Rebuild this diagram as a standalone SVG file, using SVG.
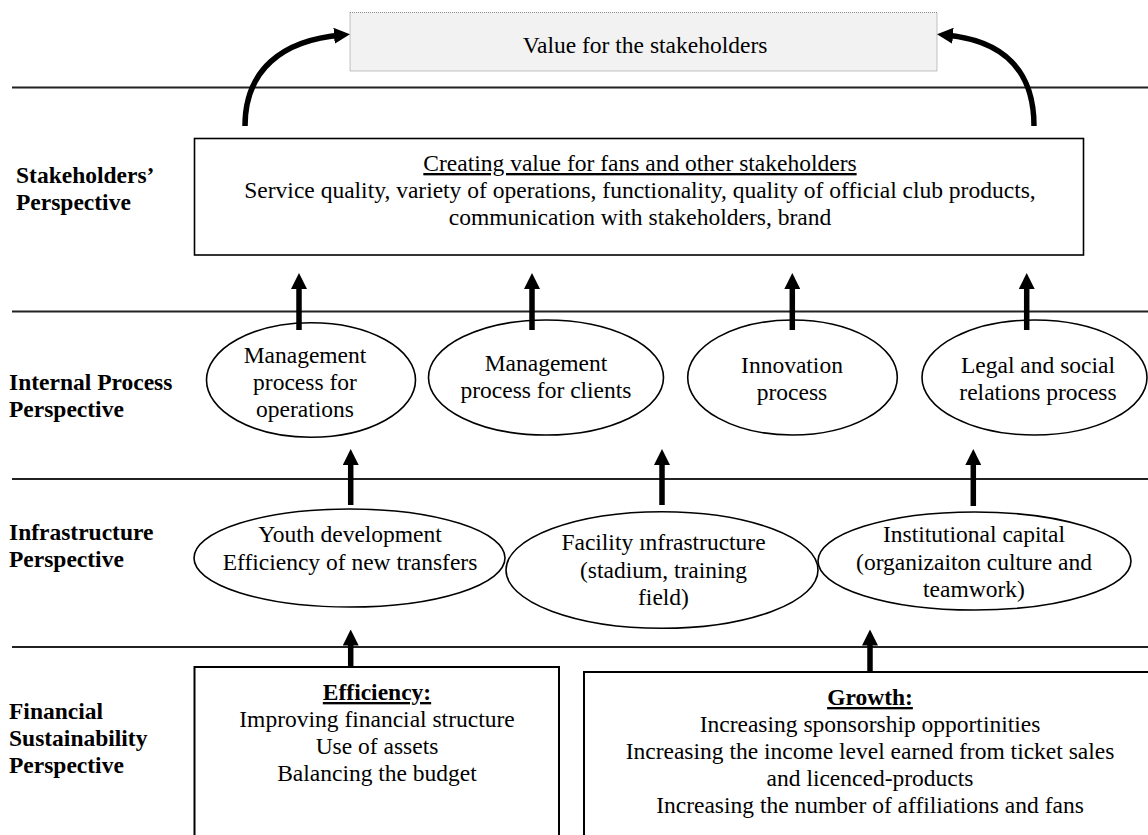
<svg xmlns="http://www.w3.org/2000/svg" width="1148" height="835" viewBox="0 0 1148 835">
<style>
  text { font-family: "Liberation Serif", "Times New Roman", serif; font-size: 23.5px; fill: #000; }
  .c { text-anchor: middle; }
  .lab { font-weight: bold; }
  .u { text-decoration: underline; }
  .b { font-weight: bold; }
  .band { stroke: #222; stroke-width: 1.8; fill: none; }
  .node { fill: #fff; stroke: #000; stroke-width: 1.6; }
  .box { fill: #fff; stroke: #000; stroke-width: 2; }
  .arr { stroke: #000; stroke-width: 5.5; fill: none; }
</style>
<defs>
  <marker id="ah" viewBox="0 0 16 16" refX="8" refY="8" markerWidth="16" markerHeight="16" markerUnits="userSpaceOnUse" orient="auto">
    <path d="M0,0 L16,8 L0,16 z" fill="#000"/>
  </marker>
</defs>

<g id="bands">
  <line class="band" x1="12" y1="87.5" x2="1148" y2="87.5"/>
  <line class="band" x1="12" y1="311.5" x2="1148" y2="311.5"/>
  <line class="band" x1="12" y1="479" x2="1148" y2="479"/>
  <line class="band" x1="12" y1="647" x2="1148" y2="647"/>
</g>

<g id="labels">
  <text class="lab" x="16" y="183">Stakeholders’</text>
  <text class="lab" x="16" y="210">Perspective</text>
  <text class="lab" x="9" y="390">Internal Process</text>
  <text class="lab" x="9" y="417">Perspective</text>
  <text class="lab" x="9" y="540">Infrastructure</text>
  <text class="lab" x="9" y="567">Perspective</text>
  <text class="lab" x="9" y="719">Financial</text>
  <text class="lab" x="9" y="746">Sustainability</text>
  <text class="lab" x="9" y="773">Perspective</text>
</g>

<g id="value">
  <rect x="350" y="12.5" width="587" height="58.5" fill="#f2f2f2" stroke="#888" stroke-width="1" stroke-dasharray="1,1"/>
  <text class="c" x="645" y="52.5">Value for the stakeholders</text>
</g>

<g id="stakeholders">
  <rect class="node" x="194.5" y="138.5" width="889" height="116.5"/>
  <text class="c u" x="640" y="171">Creating value for fans and other stakeholders</text>
  <text class="c" x="640" y="198">Service quality, variety of operations, functionality, quality of official club products,</text>
  <text class="c" x="640" y="225">communication with stakeholders, brand</text>
</g>

<g id="mgmt-ops">
  <ellipse class="node" cx="311" cy="380" rx="104.5" ry="57.3"/>
  <text class="c" x="305" y="363">Management</text>
  <text class="c" x="305" y="390">process for</text>
  <text class="c" x="305" y="417">operations</text>
</g>
<g id="mgmt-clients">
  <ellipse class="node" cx="546" cy="377.5" rx="117.5" ry="57.5"/>
  <text class="c" x="546" y="371">Management</text>
  <text class="c" x="546" y="398">process for clients</text>
</g>
<g id="innovation">
  <ellipse class="node" cx="792.5" cy="377.5" rx="104.8" ry="57.5"/>
  <text class="c" x="792" y="372.5">Innovation</text>
  <text class="c" x="792" y="400">process</text>
</g>
<g id="legal">
  <ellipse class="node" cx="1034.5" cy="377.5" rx="112.5" ry="57.5"/>
  <text class="c" x="1038" y="372.5">Legal and social</text>
  <text class="c" x="1038" y="400">relations process</text>
</g>

<g id="youth">
  <ellipse class="node" cx="349.5" cy="558" rx="155.5" ry="49"/>
  <text class="c" x="350" y="542">Youth development</text>
  <text class="c" x="350" y="570">Efficiency of new transfers</text>
</g>
<g id="facility">
  <ellipse class="node" cx="662" cy="570" rx="156" ry="58.3"/>
  <text class="c" x="663.5" y="550">Facility ınfrastructure</text>
  <text class="c" x="663.5" y="578">(stadium, training</text>
  <text class="c" x="663.5" y="605">field)</text>
</g>
<g id="institutional">
  <ellipse class="node" cx="974.5" cy="561" rx="156.5" ry="49"/>
  <text class="c" x="974" y="542">Institutional capital</text>
  <text class="c" x="974" y="570">(organizaiton culture and</text>
  <text class="c" x="974" y="597">teamwork)</text>
</g>

<g id="efficiency">
  <rect class="box" x="194.5" y="667" width="364.5" height="200"/>
  <text class="c b u" x="377" y="700">Efficiency:</text>
  <text class="c" x="377" y="727">Improving financial structure</text>
  <text class="c" x="377" y="754">Use of assets</text>
  <text class="c" x="377" y="781">Balancing the budget</text>
</g>
<g id="growth">
  <rect class="box" x="584" y="672" width="600" height="200"/>
  <text class="c b u" x="870" y="705">Growth:</text>
  <text class="c" x="870" y="732">Increasing sponsorship opportinities</text>
  <text class="c" x="870" y="759">Increasing the income level earned from ticket sales</text>
  <text class="c" x="870" y="786">and licenced-products</text>
  <text class="c" x="870" y="813">Increasing the number of affiliations and fans</text>
</g>

<g id="connectors">
  <path class="arr" d="M245,126 C245,70 282,40 342,35" marker-end="url(#ah)"/>
  <path class="arr" d="M1034,126 C1034,70 1003,40 945,35" marker-end="url(#ah)"/>
  <line class="arr" x1="299" y1="330" x2="299" y2="281" marker-end="url(#ah)"/>
  <line class="arr" x1="532" y1="330" x2="532" y2="281" marker-end="url(#ah)"/>
  <line class="arr" x1="792.3" y1="330" x2="792.3" y2="281" marker-end="url(#ah)"/>
  <line class="arr" x1="1026.7" y1="330" x2="1026.7" y2="281" marker-end="url(#ah)"/>
  <line class="arr" x1="350.7" y1="505" x2="350.7" y2="457" marker-end="url(#ah)"/>
  <line class="arr" x1="662" y1="505" x2="662" y2="457" marker-end="url(#ah)"/>
  <line class="arr" x1="973.3" y1="506" x2="973.3" y2="457" marker-end="url(#ah)"/>
  <line class="arr" x1="350.7" y1="666" x2="350.7" y2="637.5" marker-end="url(#ah)"/>
  <line class="arr" x1="870" y1="671" x2="870" y2="637.5" marker-end="url(#ah)"/>
</g>
</svg>
